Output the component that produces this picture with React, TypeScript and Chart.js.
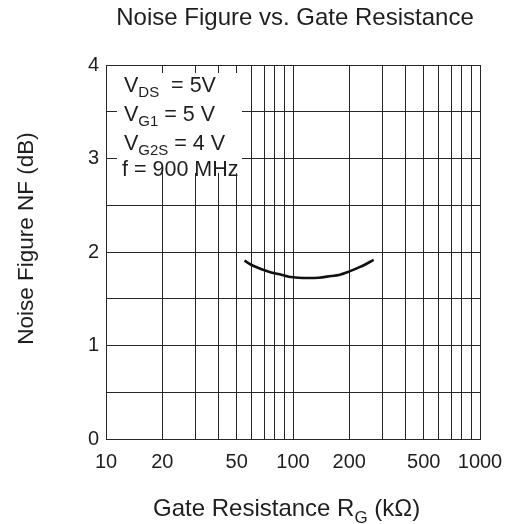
import React, { useEffect, useRef } from "react";
import { Chart, registerables } from "chart.js";

Chart.register(...registerables);

const title = "Noise Figure vs. Gate Resistance";
const yTitle = "Noise Figure NF (dB)";
const xTitleMain = "Gate Resistance R";
const xTitleSub = "G";
const xTitleRest = " (kΩ)";

const xTickValues = [10, 20, 30, 40, 50, 60, 70, 80, 90, 100, 200, 300, 400, 500, 600, 700, 800, 900, 1000];
const xLabelValues = [10, 20, 50, 100, 200, 500, 1000];
const yMin = 0;
const yMax = 4;
const yStep = 0.5;

const resistance = [55, 60, 68, 75, 85, 95, 107, 120, 137, 160, 176, 199, 230, 270];
const noiseFigure = [1.907, 1.861, 1.815, 1.786, 1.761, 1.736, 1.725, 1.722, 1.725, 1.743, 1.754, 1.79, 1.843, 1.915];

const condMain = ["V", "V", "V", "f = 900 MHz"];
const condSub = ["DS", "G1", "G2S", ""];
const condRest = ["  = 5V", " = 5 V", " = 4 V", ""];

const FONT = "'Liberation Sans', Arial, Helvetica, sans-serif";
const INK = "#1e1e1e";
const GRID = "#262626";

const textPlugin = {
  id: "textPlugin",
  beforeDatasetsDraw(chart: any) {
    const ctx = chart.ctx;
    ctx.save();
    ctx.fillStyle = "#ffffff";
    ctx.fillRect(117, 73, 125, 100);
    ctx.restore();
  },
  afterDraw(chart: any) {
    const ctx = chart.ctx;
    ctx.save();
    ctx.fillStyle = INK;
    ctx.textBaseline = "alphabetic";

    // title
    ctx.font = `24px ${FONT}`;
    ctx.textAlign = "center";
    ctx.fillText(title, 295, 25);

    // y title
    ctx.save();
    ctx.translate(33, 238.5);
    ctx.rotate(-Math.PI / 2);
    ctx.font = `22.5px ${FONT}`;
    ctx.textAlign = "center";
    ctx.fillText(yTitle, 0, 0);
    ctx.restore();

    // x title
    ctx.textAlign = "left";
    let x = 153;
    const xb = 516;
    ctx.font = `24px ${FONT}`;
    ctx.fillText(xTitleMain, x, xb);
    x += ctx.measureText(xTitleMain).width;
    ctx.font = `17px ${FONT}`;
    ctx.fillText(xTitleSub, x, xb + 6.5);
    x += ctx.measureText(xTitleSub).width;
    ctx.font = `24px ${FONT}`;
    ctx.fillText(xTitleRest, x, xb);

    // conditions
    const baselines = [91.5, 120.5, 149.5, 176];
    for (let i = 0; i < condMain.length; i++) {
      let cx = condSub[i] ? 124 : 122;
      const b = baselines[i];
      ctx.font = `21.5px ${FONT}`;
      ctx.fillText(condMain[i], cx, b);
      cx += ctx.measureText(condMain[i]).width;
      if (condSub[i]) {
        ctx.font = `15px ${FONT}`;
        ctx.fillText(condSub[i], cx, b + 5);
        cx += ctx.measureText(condSub[i]).width;
      }
      if (condRest[i]) {
        ctx.font = `21.5px ${FONT}`;
        ctx.fillText(condRest[i], cx, b);
      }
    }
    ctx.restore();
  },
};

export default function App() {
  const ref = useRef<HTMLCanvasElement | null>(null);
  useEffect(() => {
    if (!ref.current) return;
    const chart = new Chart(ref.current, {
      type: "line",
      data: {
        datasets: [
          {
            data: resistance.map((r, i) => ({ x: r, y: noiseFigure[i] })),
            borderColor: "#111111",
            borderWidth: 2.6,
            pointRadius: 0,
            fill: false,
            cubicInterpolationMode: "monotone",
          },
        ],
      },
      options: {
        responsive: false,
        animation: false,
        events: [],
        layout: { padding: { top: 65, right: 37, left: 0, bottom: 0 } },
        plugins: { legend: { display: false }, title: { display: false }, tooltip: { enabled: false } },
        scales: {
          x: {
            type: "logarithmic",
            min: 10,
            max: 1000,
            afterFit(scale: any) {
              scale.height = 85;
            },
            afterBuildTicks(scale: any) {
              scale.ticks = xTickValues.map((v) => ({ value: v }));
            },
            ticks: {
              autoSkip: false,
              maxRotation: 0,
              minRotation: 0,
              padding: 11,
              color: INK,
              font: { family: FONT, size: 20 },
              callback: (v: any) => (xLabelValues.includes(Number(v)) ? String(v) : ""),
            },
            grid: { color: GRID, lineWidth: 1, drawTicks: false },
            border: { color: GRID, width: 1 },
          },
          y: {
            type: "linear",
            min: yMin,
            max: yMax,
            afterFit(scale: any) {
              scale.width = 106;
            },
            ticks: {
              stepSize: yStep,
              padding: 7,
              color: INK,
              font: { family: FONT, size: 20 },
              callback: (v: any) => (Number.isInteger(Number(v)) ? String(v) : ""),
            },
            grid: { color: GRID, lineWidth: 1, drawTicks: false },
            border: { color: GRID, width: 1 },
          },
        },
      },
      plugins: [textPlugin],
    } as any);
    return () => chart.destroy();
  }, []);
  return (
    <div style={{ position: "fixed", left: 0, top: 0, width: 517, height: 524, background: "#fff" }}>
      <canvas ref={ref} width={517} height={524} style={{ width: 517, height: 524, display: "block" }} />
    </div>
  );
}
